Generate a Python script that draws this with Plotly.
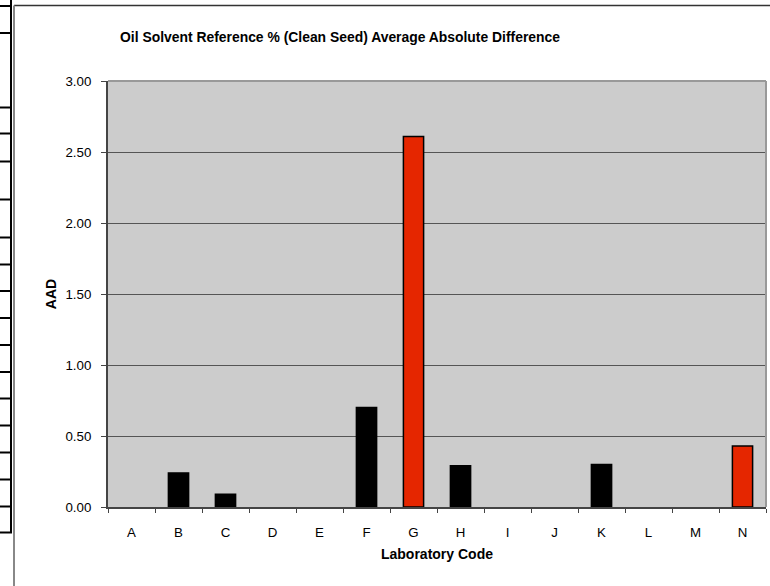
import plotly.graph_objects as go

labs = ["A", "B", "C", "D", "E", "F", "G", "H", "I", "J", "K", "L", "M", "N"]
aad = [None, 0.24, 0.09, None, None, 0.70, 2.61, 0.29, None, None, 0.30, None, None, 0.43]
flag = ["", "", "", "", "", "", "red", "", "", "", "", "", "", "red"]
yticks = [0.0, 0.5, 1.0, 1.5, 2.0, 2.5, 3.0]

W, H = 770, 586
L, R, T, B = 108, 4, 81, 79
pw, ph = W - L - R, H - T - B

def px(x):
    return (x - L) / pw

def py(y):
    return (H - B - y) / ph

colors = ["#E52600" if f == "red" else "#000000" for f in flag]

fig = go.Figure()
fig.add_trace(go.Bar(
    x=labs, y=aad, marker=dict(color=colors, line=dict(color="#000000", width=1.5)),
    width=0.43, hoverinfo="x+y"))

shapes = []
# chart frame
shapes.append(dict(type="line", xref="paper", yref="paper", x0=px(14), x1=px(770), y0=py(5.5), y1=py(5.5),
                   line=dict(color="#333333", width=1.5), layer="above"))
shapes.append(dict(type="line", xref="paper", yref="paper", x0=px(14), x1=px(14), y0=py(5.5), y1=py(586),
                   line=dict(color="#888888", width=2), layer="above"))
# left table lines
shapes.append(dict(type="line", xref="paper", yref="paper", x0=px(11), x1=px(11), y0=py(0), y1=py(533),
                   line=dict(color="#000000", width=2), layer="above"))
for yy in [6, 33, 107.5, 133.5, 161.5, 199.5, 237.5, 264.5, 291, 318, 345, 372, 398.5, 425.5, 452.5, 479.5, 506.5, 532.5]:
    shapes.append(dict(type="line", xref="paper", yref="paper", x0=px(0), x1=px(12), y0=py(yy), y1=py(yy),
                       line=dict(color="#000000", width=2), layer="above"))
# plot area border (top/right gray)
shapes.append(dict(type="line", xref="paper", yref="paper", x0=0, x1=1, y0=1, y1=1,
                   line=dict(color="#999999", width=2), layer="above"))
shapes.append(dict(type="line", xref="paper", yref="paper", x0=1, x1=1, y0=0, y1=1,
                   line=dict(color="#999999", width=2), layer="above"))

fig.update_layout(
    width=W, height=H,
    margin=dict(l=L, r=R, t=T, b=B),
    paper_bgcolor="#ffffff", plot_bgcolor="#cccccc",
    font=dict(family="Liberation Sans, Arial, sans-serif", size=13.3, color="#000000"),
    showlegend=False,
    shapes=shapes,
    title=dict(text="<b>Oil Solvent Reference % (Clean Seed) Average Absolute Difference</b>",
               x=px(120), xref="paper", xanchor="left", y=1 - 37 / H, yanchor="middle",
               font=dict(size=13.9)),
    bargap=0.57,
)
fig.update_xaxes(
    type="category", categoryorder="array", categoryarray=labs,
    showgrid=False, showline=True, linecolor="#444444", linewidth=2,
    ticks="outside", tickson="boundaries", ticklen=4, tickcolor="#444444", tickwidth=1,
    tickfont=dict(size=13.3), ticklabelstandoff=12,
    title=dict(text="<b>Laboratory Code</b>", font=dict(size=14), standoff=10),
)
fig.update_yaxes(
    range=[0, 3], tickvals=yticks, tickformat=".2f",
    showgrid=True, gridcolor="#555555", gridwidth=1, zeroline=False,
    showline=True, linecolor="#444444", linewidth=2,
    ticks="outside", ticklen=5, tickcolor="#444444",
    tickfont=dict(size=13.3), ticklabelstandoff=7,
    title=dict(text="<b>AAD</b>", font=dict(size=14), standoff=6),
)

fig.write_html("out.html", config={"displayModeBar": False},
               post_script="document.body.style.margin='0';")
